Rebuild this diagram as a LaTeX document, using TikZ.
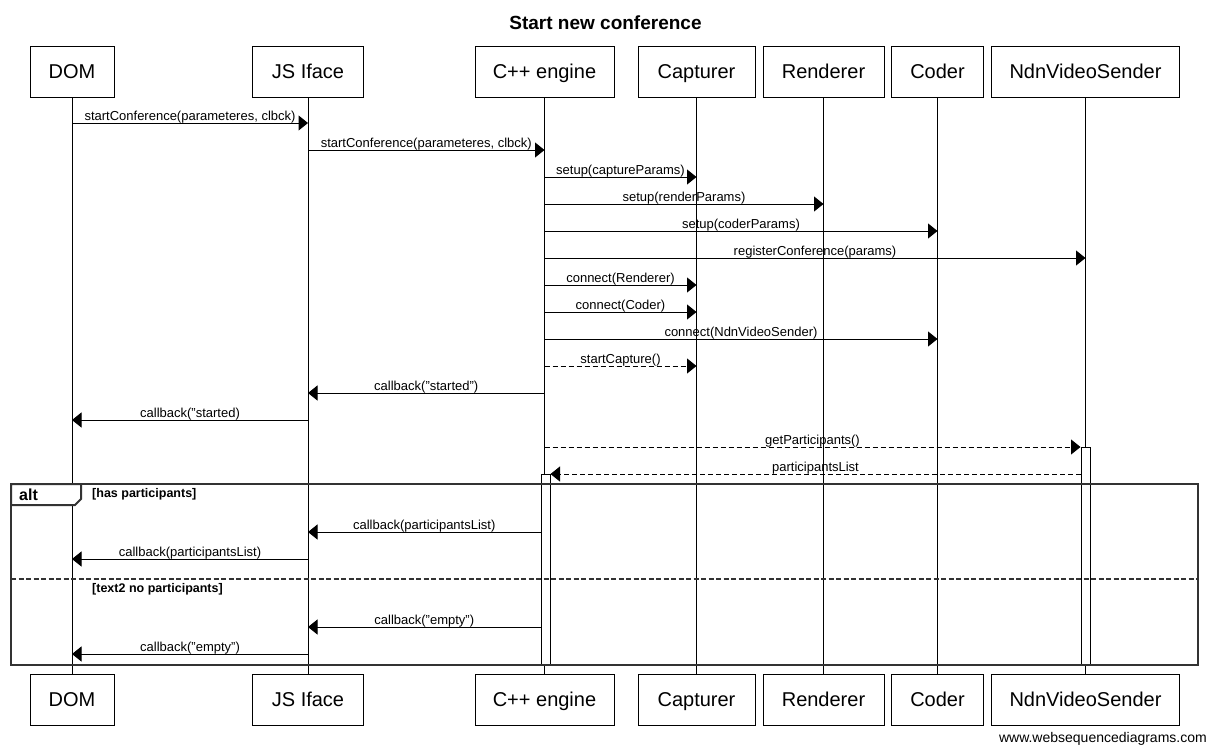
\documentclass[tikz,border=0pt]{standalone}
\usepackage{fontspec}
\setmainfont{Liberation Sans}
\usetikzlibrary{arrows.meta}
\begin{document}
\begin{tikzpicture}[x=1pt,y=-1pt,
  part/.style={draw, line width=1pt, fill=white, minimum height=51pt, inner sep=0pt, text height=17pt, text depth=4pt, font=\fontsize{20}{24}\selectfont},
  life/.style={line width=1pt},
  msg/.style={line width=1pt, -{Triangle[length=9.5pt,width=15pt]}},
  ret/.style={msg, dash pattern=on 5pt off 3pt},
  lbl/.style={font=\fontsize{13}{15}\selectfont, anchor=base, inner sep=0pt, yshift=3pt, midway},
  actbar/.style={draw, line width=1pt, fill=white, minimum width=9pt, inner sep=0pt},
  frame/.style={line width=2pt, draw=black!80},
  guard/.style={font=\bfseries\fontsize{12.5}{14}\selectfont, anchor=west, inner sep=0pt}]
\useasboundingbox (0,0) rectangle (1208,747);
\fill[white] (0,0) rectangle (1208,747);

% participants (top)
\node[part, minimum width=84pt]  (domT) at (72,71.5)   {DOM};
\node[part, minimum width=111pt] (jsT)  at (308,71.5)  {JS Iface};
\node[part, minimum width=139pt] (cppT) at (544.5,71.5) {C++ engine};
\node[part, minimum width=117pt] (capT) at (696.5,71.5) {Capturer};
\node[part, minimum width=121pt] (renT) at (823.5,71.5) {Renderer};
\node[part, minimum width=92pt]  (codT) at (937.5,71.5) {Coder};
\node[part, minimum width=188pt] (ndnT) at (1085.5,71.5) {NdnVideoSender};
% participants (bottom)
\node[part, minimum width=84pt]  (domB) at (72,699.5)   {DOM};
\node[part, minimum width=111pt] (jsB)  at (308,699.5)  {JS Iface};
\node[part, minimum width=139pt] (cppB) at (544.5,699.5) {C++ engine};
\node[part, minimum width=117pt] (capB) at (696.5,699.5) {Capturer};
\node[part, minimum width=121pt] (renB) at (823.5,699.5) {Renderer};
\node[part, minimum width=92pt]  (codB) at (937.5,699.5) {Coder};
\node[part, minimum width=188pt] (ndnB) at (1085.5,699.5) {NdnVideoSender};

% lifelines
\foreach \p in {dom,js,cpp,cap,ren,cod,ndn}
  \draw[life] (\p T.south) -- (\p B.north);

% activation bars
\node[actbar, minimum height=191pt] (cppAct) at (545.5,569.5) {};
\node[actbar, minimum height=218pt] (ndnAct) at (1085.5,556) {};

% alt frame
\draw[frame] (11,484) rectangle (1198,665);
\draw[frame, fill=white] (11,484) -- (81,484) -- (81,499) -- (75,505) -- (11,505) -- cycle;
\draw[frame, dash pattern=on 5pt off 2.5pt] (11,579) -- (1198,579);
\node[font=\bfseries\fontsize{16}{18}\selectfont, anchor=west, inner sep=0pt] (altlbl) at (19,494.5) {alt};
\node[guard] (g1) at (92,494) {[has participants]};
\node[guard] (g2) at (92,589.5) {[text2 no participants]};

% message rows
\foreach \n/\y in {1/123,2/150,3/177,4/204,5/231,6/258,7/285,8/312,9/339,10/366,11/393,12/420,13/447,14/474,15/532,16/559,17/627,18/654}
  \coordinate (m\n) at (0,\y);

\draw[msg] (domT |- m1) -- node[lbl]{startConference(parameteres, clbck)} (jsT |- m1);
\draw[msg] (jsT |- m2) -- node[lbl]{startConference(parameteres, clbck)} (cppT |- m2);
\draw[msg] (cppT |- m3) -- node[lbl]{setup(captureParams)} (capT |- m3);
\draw[msg] (cppT |- m4) -- node[lbl]{setup(renderParams)} (renT |- m4);
\draw[msg] (cppT |- m5) -- node[lbl]{setup(coderParams)} (codT |- m5);
\draw[msg] (cppT |- m6) -- node[lbl]{registerConference(params)} (ndnT |- m6);
\draw[msg] (cppT |- m7) -- node[lbl]{connect(Renderer)} (capT |- m7);
\draw[msg] (cppT |- m8) -- node[lbl]{connect(Coder)} (capT |- m8);
\draw[msg] (cppT |- m9) -- node[lbl]{connect(NdnVideoSender)} (codT |- m9);
\draw[ret] (cppT |- m10) -- node[lbl]{startCapture()} (capT |- m10);
\draw[msg] (cppT |- m11) -- node[lbl]{callback("started")} (jsT |- m11);
\draw[msg] (jsT |- m12) -- node[lbl]{callback("started)} (domT |- m12);
\draw[ret] (cppT |- m13) -- node[lbl]{getParticipants()} (ndnAct.west |- m13);
\draw[ret] (ndnAct.west |- m14) -- node[lbl]{participantsList} (cppAct.east |- m14);
\draw[msg] (cppAct.west |- m15) -- node[lbl]{callback(participantsList)} (jsT |- m15);
\draw[msg] (jsT |- m16) -- node[lbl]{callback(participantsList)} (domT |- m16);
\draw[msg] (cppAct.west |- m17) -- node[lbl]{callback("empty")} (jsT |- m17);
\draw[msg] (jsT |- m18) -- node[lbl]{callback("empty")} (domT |- m18);

% title and credit
\node[font=\bfseries\fontsize{19}{22}\selectfont] (title) at (605.5,23) {Start new conference};
\node[font=\fontsize{14}{16}\selectfont, anchor=east, inner sep=0pt] (www) at (1207,739) {www.websequencediagrams.com};
\end{tikzpicture}
\end{document}
